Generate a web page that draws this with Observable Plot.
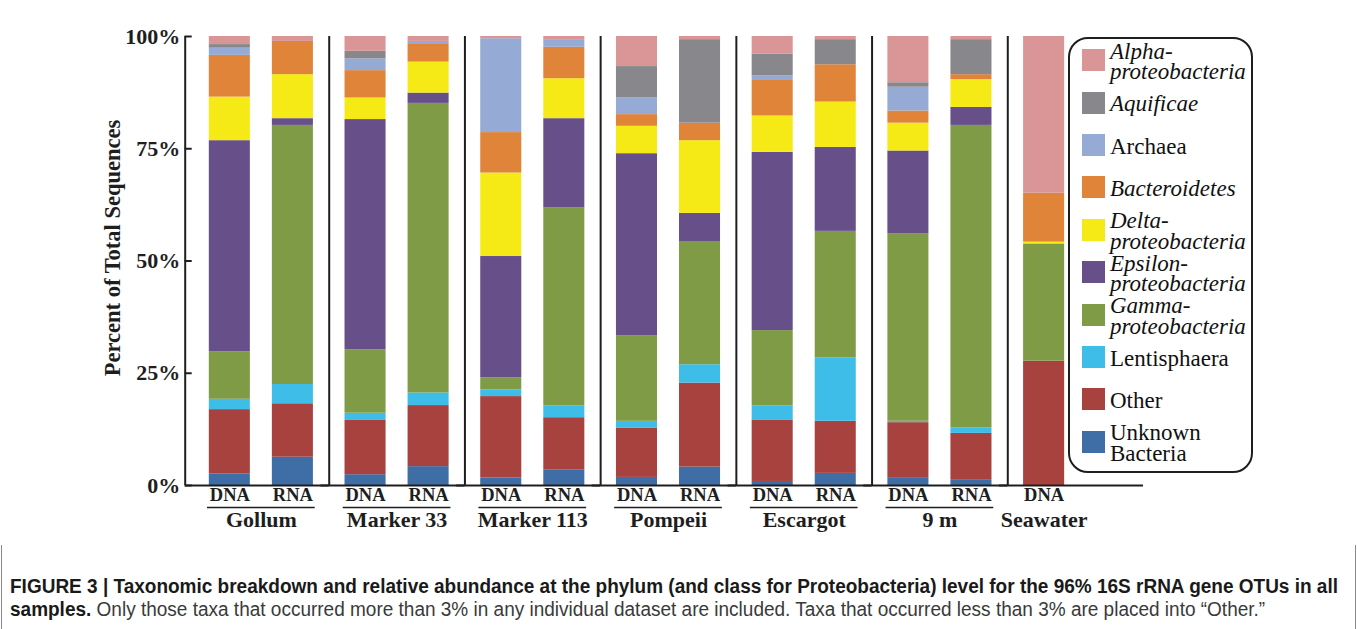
<!DOCTYPE html>
<html>
<head>
<meta charset="utf-8">
<script src="https://cdn.jsdelivr.net/npm/d3@7"></script>
<script src="https://cdn.jsdelivr.net/npm/@observablehq/plot@0.6"></script>
<style>
  body { margin: 0; background: #fff; }
  #fig { position: relative; width: 1357px; height: 629px; overflow: hidden; background: #fff; }
  #chart { position: absolute; left: 0; top: 0; }
  #legend {
    position: absolute; left: 1068px; top: 37px; width: 181px; height: 432px;
    border: 2px solid #1e1e1e; border-radius: 20px; background: #fff;
    font-family: "Liberation Serif", "Times New Roman", serif; font-size: 23px; color: #111;
  }
  .item { display: flex; align-items: center; height: 42.4px; padding-left: 12px; }
  .swatch { width: 23px; height: 22px; flex: none; margin-right: 5px; }
  .label { line-height: 20.5px; white-space: nowrap; position: relative; top: 2px; }
  .label.it { font-style: italic; }
  .frame-side { position: absolute; top: 545px; bottom: 0; width: 1px; background: #8a8a8a; }
  #caption {
    position: absolute; left: 10px; top: 575px;
    font-family: "Liberation Sans", Arial, sans-serif; font-size: 19.5px; color: #3a3a3a; line-height: 23px;
  }
  #caption .line { white-space: nowrap; transform-origin: 0 0; display: block; width: max-content; }
  #caption b { font-weight: bold; color: #1a1a1a; }
</style>
</head>
<body>
<div id="fig">
  <div id="chart"></div>
  <div id="legend"></div>
  <div class="frame-side" style="left:1px"></div>
  <div class="frame-side" style="left:1355px"></div>
  <div id="caption"></div>
</div>
<script>
// Vent sites and nucleic-acid libraries
const sites = ["Gollum", "Marker 33", "Marker 113", "Pompeii", "Escargot", "9 m", "Seawater"];
const types = ["DNA", "RNA"];

// Taxa in stacking order, bottom to top
const taxa = [
  "Unknown Bacteria", "Other", "Lentisphaera", "Gammaproteobacteria",
  "Epsilonproteobacteria", "Deltaproteobacteria", "Bacteroidetes",
  "Archaea", "Aquificae", "Alphaproteobacteria"
];
const taxonColors = [
  "#3e6ea5", "#a8423f", "#3fbde9", "#7f9b46",
  "#67508a", "#f6ea16", "#e0843a",
  "#95aad5", "#88888c", "#da9596"
];

// Percent of total sequences per library, in the taxa order above
const gollumDNA    = [2.6, 14.3, 2.3, 10.6, 47.0, 9.7, 9.3, 1.6, 0.8, 1.8];
const gollumRNA    = [6.3, 11.9, 4.3, 57.7, 1.5, 9.8, 7.4, 0.0, 0.0, 1.1];
const marker33DNA  = [2.4, 12.2, 1.5, 14.1, 51.3, 4.8, 6.1, 2.6, 1.7, 3.3];
const marker33RNA  = [4.2, 13.6, 2.8, 64.5, 2.3, 6.9, 4.1, 0.5, 0.0, 1.1];
const marker113DNA = [1.7, 18.1, 1.5, 2.7, 27.0, 18.6, 9.0, 20.9, 0.0, 0.5];
const marker113RNA = [3.5, 11.6, 2.6, 44.1, 19.9, 8.9, 7.0, 1.7, 0.0, 0.7];
const pompeiiDNA   = [1.8, 11.0, 1.5, 19.0, 40.6, 6.1, 2.6, 3.7, 7.0, 6.7];
const pompeiiRNA   = [4.1, 18.7, 4.1, 27.3, 6.4, 16.2, 3.9, 0.0, 18.6, 0.7];
const escargotDNA  = [0.9, 13.7, 3.1, 16.8, 39.7, 8.1, 7.9, 1.0, 4.9, 3.9];
const escargotRNA  = [2.7, 11.6, 14.1, 28.2, 18.7, 10.1, 8.3, 0.0, 5.6, 0.7];
const nineMDNA     = [1.6, 12.4, 0.3, 41.8, 18.4, 6.2, 2.7, 5.3, 1.0, 10.3];
const nineMRNA     = [1.3, 10.3, 1.2, 67.4, 4.0, 6.2, 1.1, 0.0, 7.8, 0.7];
const seawaterDNA  = [0.0, 27.7, 0.0, 26.1, 0.0, 0.4, 10.9, 0.0, 0.0, 34.9];

const samples = [
  {site: "Gollum", type: "DNA", values: gollumDNA},
  {site: "Gollum", type: "RNA", values: gollumRNA},
  {site: "Marker 33", type: "DNA", values: marker33DNA},
  {site: "Marker 33", type: "RNA", values: marker33RNA},
  {site: "Marker 113", type: "DNA", values: marker113DNA},
  {site: "Marker 113", type: "RNA", values: marker113RNA},
  {site: "Pompeii", type: "DNA", values: pompeiiDNA},
  {site: "Pompeii", type: "RNA", values: pompeiiRNA},
  {site: "Escargot", type: "DNA", values: escargotDNA},
  {site: "Escargot", type: "RNA", values: escargotRNA},
  {site: "9 m", type: "DNA", values: nineMDNA},
  {site: "9 m", type: "RNA", values: nineMRNA},
  {site: "Seawater", type: "DNA", values: seawaterDNA}
];

const yTicks = [0, 25, 50, 75, 100];
const yTitle = "Percent of Total Sequences";

// Legend text (top to bottom), split into display lines
const legendLines = [
  ["Alpha-", "proteobacteria"], ["Aquificae"], ["Archaea"], ["Bacteroidetes"],
  ["Delta-", "proteobacteria"], ["Epsilon-", "proteobacteria"], ["Gamma-", "proteobacteria"],
  ["Lentisphaera"], ["Other"], ["Unknown", "Bacteria"]
];
const legendItalic = [true, true, false, true, true, true, true, false, false, false];

// Long-format table for the stacked bars
const rows = samples.flatMap(s =>
  taxa.map((taxon, i) => ({site: s.site, type: s.type, taxon, value: s.values[i]}))
);
const pairSites = sites.filter(s => samples.some(d => d.site === s && d.type === "RNA"));
const singleSites = sites.filter(s => !pairSites.includes(s));

// Layout
const W = 1357, H = 540;
const mL = 193, mR = 214, mT = 36, mB = 55;
const xPadIn = 0.349, xPadOut = 0.2507;
const facetW = (W - mL - mR) / sites.length;
const xStep = facetW / (types.length - xPadIn + 2 * xPadOut);
const bandCenter = xStep * xPadOut + xStep * (1 - xPadIn) / 2; // facet edge to first band centre
const axisShift = 8.3;
const ink = "#1e1e1e";
const serif = "'Liberation Serif', 'Times New Roman', serif";

const chart = Plot.plot({
  width: W,
  height: H,
  marginLeft: mL,
  marginRight: mR,
  marginTop: mT,
  marginBottom: mB,
  style: {fontFamily: serif, fontSize: "22px", fontWeight: "bold", color: ink, background: "transparent", overflow: "visible"},
  fx: {domain: sites, paddingInner: 0, paddingOuter: 0, round: false, axis: null, label: null},
  x: {domain: types, paddingInner: xPadIn, paddingOuter: xPadOut, round: false, axis: null, label: null},
  y: {domain: [0, 100], axis: null},
  color: {domain: taxa, range: taxonColors},
  marks: [
    Plot.barY(rows, {fx: "site", x: "type", y: "value", fill: "taxon"}),
    // separators between sites
    Plot.ruleX(sites.slice(1), {fx: d => d, x: () => "DNA", y1: 0, y2: 100, dx: -bandCenter, stroke: ink, strokeWidth: 2}),
    // vertical axis line
    Plot.ruleX(sites.slice(0, 1), {fx: d => d, x: () => "DNA", y1: 0, y2: 100, dx: -bandCenter - axisShift, stroke: ink, strokeWidth: 2}),
    // baseline
    Plot.ruleY([0], {insetLeft: -axisShift, stroke: ink, strokeWidth: 2}),
    Plot.axisY({
      ticks: yTicks, tickFormat: d => d + "%", tickSize: -7, tickPadding: 12, dx: -axisShift,
      fontSize: 22, fontWeight: "bold", stroke: ink, strokeWidth: 2, label: null
    }),
    // axis title
    Plot.text(sites.slice(0, 1), {
      fx: d => d, frameAnchor: "left", textAnchor: "middle", text: () => yTitle, rotate: -90,
      dx: -81, dy: -13, fontSize: 22.5, fontWeight: "bold", fill: ink
    }),
    // library labels
    Plot.text(samples, {fx: "site", x: "type", text: "type", frameAnchor: "bottom", dy: 15, fontSize: 18.5, fontWeight: "bold", fill: ink}),
    // site underline and names
    Plot.ruleY(pairSites, {fx: d => d, y: () => 0, dy: 22, insetLeft: 14, insetRight: 14, stroke: ink, strokeWidth: 1.5}),
    Plot.text(pairSites, {fx: d => d, frameAnchor: "bottom", dy: 41, text: d => d, fontSize: 22, fontWeight: "bold", fill: ink}),
    Plot.text(singleSites, {fx: d => d, x: () => "DNA", frameAnchor: "bottom", dy: 41, text: d => d, fontSize: 22, fontWeight: "bold", fill: ink})
  ]
});
document.getElementById("chart").append(chart);

// Legend
const colorOf = new Map(taxa.map((t, i) => [t, taxonColors[i]]));
const legendTaxa = [...taxa].reverse();
const legend = document.getElementById("legend");
legendTaxa.forEach((taxon, i) => {
  const item = document.createElement("div");
  item.className = "item";
  const sw = document.createElement("div");
  sw.className = "swatch";
  sw.style.background = colorOf.get(taxon);
  const lab = document.createElement("div");
  lab.className = "label" + (legendItalic[i] ? " it" : "");
  lab.innerHTML = legendLines[i].join("<br>");
  item.append(sw, lab);
  legend.append(item);
});

// Caption, condensed horizontally to the figure width
const caption = document.getElementById("caption");
caption.innerHTML =
  "<span class='line'><b>FIGURE 3 | Taxonomic breakdown and relative abundance at the phylum (and class for Proteobacteria) level for the 96% 16S rRNA gene OTUs in all</b></span>" +
  "<span class='line'><b>samples.</b> Only those taxa that occurred more than 3% in any individual dataset are included. Taxa that occurred less than 3% are placed into \u201cOther.\u201d</span>";
const lines = caption.querySelectorAll(".line");
const squeeze = 1328 / lines[0].getBoundingClientRect().width;
lines.forEach(l => { l.style.transform = `scaleX(${squeeze})`; });
</script>
</body>
</html>
